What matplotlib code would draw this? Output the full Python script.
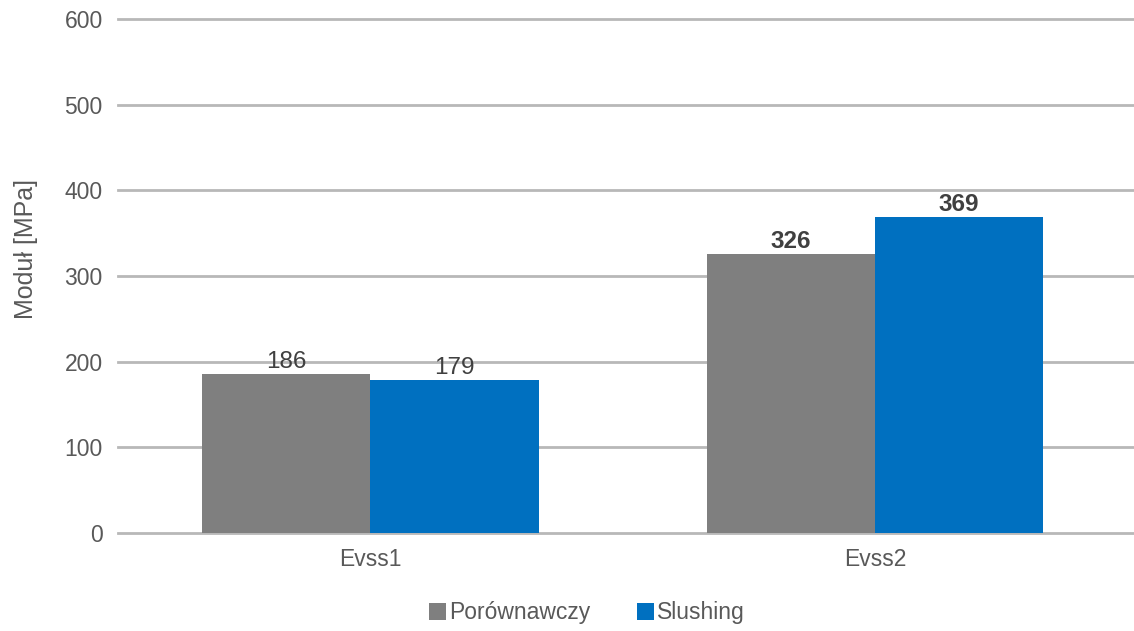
import numpy as np
import matplotlib.pyplot as plt

plt.rcParams['font.family'] = ['Liberation Sans', 'DejaVu Sans']

# dane
kategorie = ['Evss1', 'Evss2']
porownawczy = [186, 326]
slushing = [179, 369]
pogrubione = [False, True]

fig = plt.figure(figsize=(11.34, 6.31), dpi=100)
ax = fig.add_axes([118 / 1134, 1 - 533 / 631, 1027 / 1134, 514 / 631])

x = np.arange(len(kategorie))
w = 1 / 3
b1 = ax.bar(x - w / 2, porownawczy, w, color='#7f7f7f', label='Porównawczy', zorder=3)
b2 = ax.bar(x + w / 2, slushing, w, color='#0070c0', label='Slushing', zorder=3)

for bars, vals in [(b1, porownawczy), (b2, slushing)]:
    for i, (r, v) in enumerate(zip(bars, vals)):
        ax.text(r.get_x() + r.get_width() / 2, v + 1, str(v), ha='center', va='bottom',
                fontsize=17.5, color='#404040',
                fontweight='bold' if pogrubione[i] else 'normal', zorder=4)

ax.set_ylim(0, 600)
ax.set_xlim(-0.5, 1.535)
ax.set_yticks(range(0, 601, 100))
ax.set_xticks(x)
ax.set_xticklabels(kategorie)
ax.yaxis.grid(True, color='#b8b8b8', linewidth=2, zorder=0)
for gl in ax.yaxis.get_gridlines():
    gl.set_clip_on(False)
for s in ax.spines.values():
    s.set_visible(False)
ax.tick_params(axis='both', length=0, labelsize=16.5, colors='#595959')
ax.tick_params(axis='y', pad=11)
ax.tick_params(axis='x', pad=11)
ax.set_ylabel('Moduł [MPa]', fontsize=18, color='#595959')
ax.yaxis.set_label_coords(-0.078, 0.553)

fig.legend(handles=[b1, b2], loc='center', bbox_to_anchor=(587 / 1134, 1 - 613 / 631),
           ncol=2, frameon=False, fontsize=16.5, labelcolor='#595959',
           handlelength=0.75, handleheight=0.75, handletextpad=0.15, columnspacing=2.0)

fig.savefig('out.png', dpi=100)
